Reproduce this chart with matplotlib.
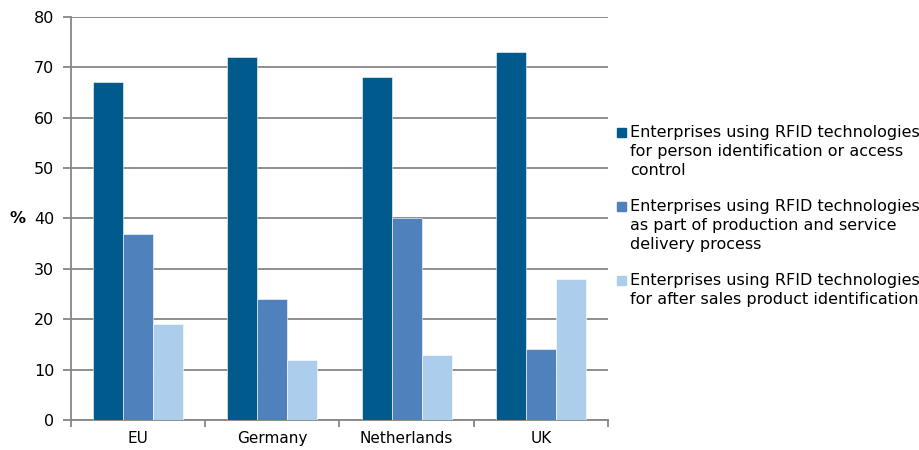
import matplotlib

matplotlib.use("Agg")
import matplotlib.pyplot as plt
import numpy as np
from matplotlib.patches import Rectangle

plt.rcParams["font.family"] = ["DejaVu Sans"]

countries = ["EU", "Germany", "Netherlands", "UK"]
person_access = [67, 72, 68, 73]
production = [37, 24, 40, 14]
after_sales = [19, 12, 13, 28]
series_labels = [
    "Enterprises using RFID technologies\nfor person identification or access\ncontrol",
    "Enterprises using RFID technologies\nas part of production and service\ndelivery process",
    "Enterprises using RFID technologies\nfor after sales product identification",
]
colours = ["#005A8C", "#4F81BD", "#ACCDEC"]

W, H = 920, 450
fig = plt.figure(figsize=(W / 100, H / 100), dpi=100)
ax = fig.add_axes([71 / W, 30 / H, 537 / W, 403 / H])

x = np.arange(len(countries))
w = 0.223
for i, (vals, lab, col) in enumerate(zip([person_access, production, after_sales],
                                         series_labels, colours)):
    ax.bar(x + (i - 1) * w, vals, width=w, color=col, label=lab,
           edgecolor="white", linewidth=0.4, zorder=3)

ax.set_xlim(-0.5, len(countries) - 0.5)
ax.set_ylim(0, 80)
ax.set_yticks(np.arange(0, 81, 10))
ax.yaxis.grid(True, color="#868686", lw=1.3, zorder=0)
ax.set_xticks(x)
ax.set_xticklabels(countries, fontsize=11)
ax.set_xticks(np.arange(-0.5, len(countries)), minor=True)
ax.tick_params(axis="x", which="major", length=0, pad=8)
ax.tick_params(axis="x", which="minor", length=5, color="#868686", width=1.3)
ax.tick_params(axis="y", length=6, color="#868686", width=1.3, labelsize=11.5, pad=6)
for s in ("top", "right"):
    ax.spines[s].set_visible(False)
for s in ("left", "bottom"):
    ax.spines[s].set_color("#868686")
    ax.spines[s].set_linewidth(1.3)
ax.set_ylabel("%", rotation=0, fontsize=11.5, fontweight="bold", labelpad=12, va="center")

# legend drawn by hand so the swatch sits on the first text line
entry_tops = [125, 199, 273]
for lab, col, top in zip(series_labels, colours, entry_tops):
    fig.text(630 / W, 1 - top / H, lab, fontsize=11.5, va="top", ha="left",
             linespacing=1.34)
    fig.patches.append(Rectangle((617 / W, 1 - (top + 12) / H), 9 / W, 9 / H,
                                 transform=fig.transFigure, color=col))

fig.savefig("out.png", dpi=100)
